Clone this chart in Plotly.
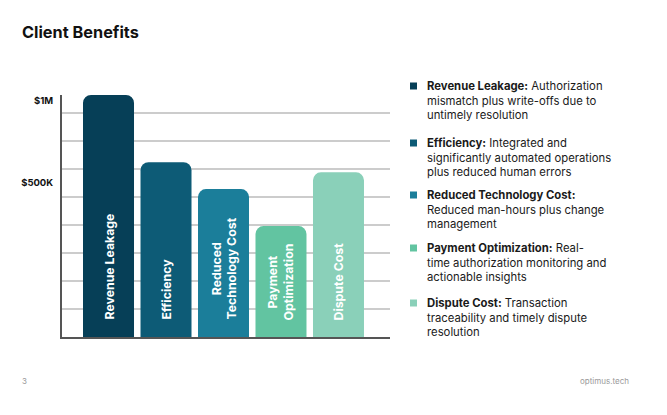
import plotly.graph_objects as go

# bar data, in $K (gridlines every 125K)
categories = ["Revenue Leakage", "Efficiency", "Reduced Technology Cost",
              "Payment Optimization", "Dispute Cost"]
bar_labels = ["Revenue Leakage", "Efficiency", "Reduced<br>Technology Cost",
              "Payment<br>Optimization", "Dispute Cost"]
values = [1080, 780, 660, 495, 735]
colors = ["#063f57", "#0d5b76", "#1b7e9a", "#62c4a1", "#8ad0b9"]

tick_vals = [690, 1055]
tick_text = ["$500K", "$1M"]

legend_titles = ["Revenue Leakage:", "Efficiency:", "Reduced Technology Cost:",
                 "Payment Optimization:", "Dispute Cost:"]
legend_texts = [
    " Authorization<br>mismatch plus write-offs due to<br>untimely resolution",
    " Integrated and<br>significantly automated operations<br>plus reduced human errors",
    "<br>Reduced man-hours plus change<br>management",
    " Real-<br>time authorization monitoring and<br>actionable insights",
    " Transaction<br>traceability and timely dispute<br>resolution",
]
legend_top = [77, 134, 186, 239, 294]

W, H = 667, 415
OFF = 8  # page body margin
FONT = "Inter, Roboto, sans-serif"


def px(x):
    return (x - OFF) / W


def py(y):
    return 1 - (y - OFF) / H


fig = go.Figure()
fig.add_trace(go.Bar(x=categories, y=values, marker_color=colors,
                     marker_line_width=0, width=0.887, hoverinfo="skip"))

for cat, lab in zip(categories, bar_labels):
    fig.add_annotation(x=cat, y=0, xref="x", yref="y", text="<b>" + lab + "</b>",
                       textangle=-90, showarrow=False, yanchor="bottom",
                       yshift=15, font=dict(family=FONT, size=12.3, color="white"))

# legend-like descriptions on the right
for i in range(len(categories)):
    fig.add_annotation(x=px(425), y=py(legend_top[i]), xref="paper", yref="paper",
                       xanchor="left", yanchor="top", align="left", showarrow=False,
                       text="<b>" + legend_titles[i] + "</b>" + legend_texts[i],
                       font=dict(family=FONT, size=11.3, color="#1a1a1a"))
    yc = legend_top[i] + 9
    fig.add_shape(type="rect", xref="paper", yref="paper",
                  x0=px(410), x1=px(417), y0=py(yc - 3.5), y1=py(yc + 3.5),
                  fillcolor=colors[i], line_width=0)

fig.add_annotation(x=px(20), y=py(32), xref="paper", yref="paper",
                   xanchor="left", yanchor="middle", showarrow=False,
                   text="<b>Client Benefits</b>",
                   font=dict(family=FONT, size=16.3, color="#111111"))
fig.add_annotation(x=px(20), y=py(381), xref="paper", yref="paper",
                   xanchor="left", yanchor="middle", showarrow=False, text="3",
                   font=dict(family=FONT, size=8, color="#9a9a9a"))
fig.add_annotation(x=px(631), y=py(381), xref="paper", yref="paper",
                   xanchor="right", yanchor="middle", showarrow=False, text="optimus.tech",
                   font=dict(family=FONT, size=8, color="#9a9a9a"))

fig.update_layout(
    width=W, height=H, margin=dict(l=0, r=0, t=0, b=0),
    paper_bgcolor="white", plot_bgcolor="white", showlegend=False,
    barcornerradius=8,
    xaxis=dict(domain=[px(62), px(390)], range=[-0.809, 4.896], showticklabels=False,
               showgrid=False, showline=True, linecolor="#555555", linewidth=2,
               zeroline=False, ticks="", fixedrange=True),
    yaxis=dict(domain=[py(337), py(95)], range=[0, 1080],
               tickvals=tick_vals, ticktext=tick_text, showgrid=False,
               showline=True, linecolor="#555555", linewidth=2, zeroline=False,
               ticks="", ticklabelstandoff=5,
               tickfont=dict(family=FONT, size=9.5, color="#111111", weight="bold"),
               minor=dict(dtick=125, tick0=0, showgrid=True, gridcolor="#cccccc",
                          gridwidth=1.5, ticks="")),
)

fig.write_html("out.html")
